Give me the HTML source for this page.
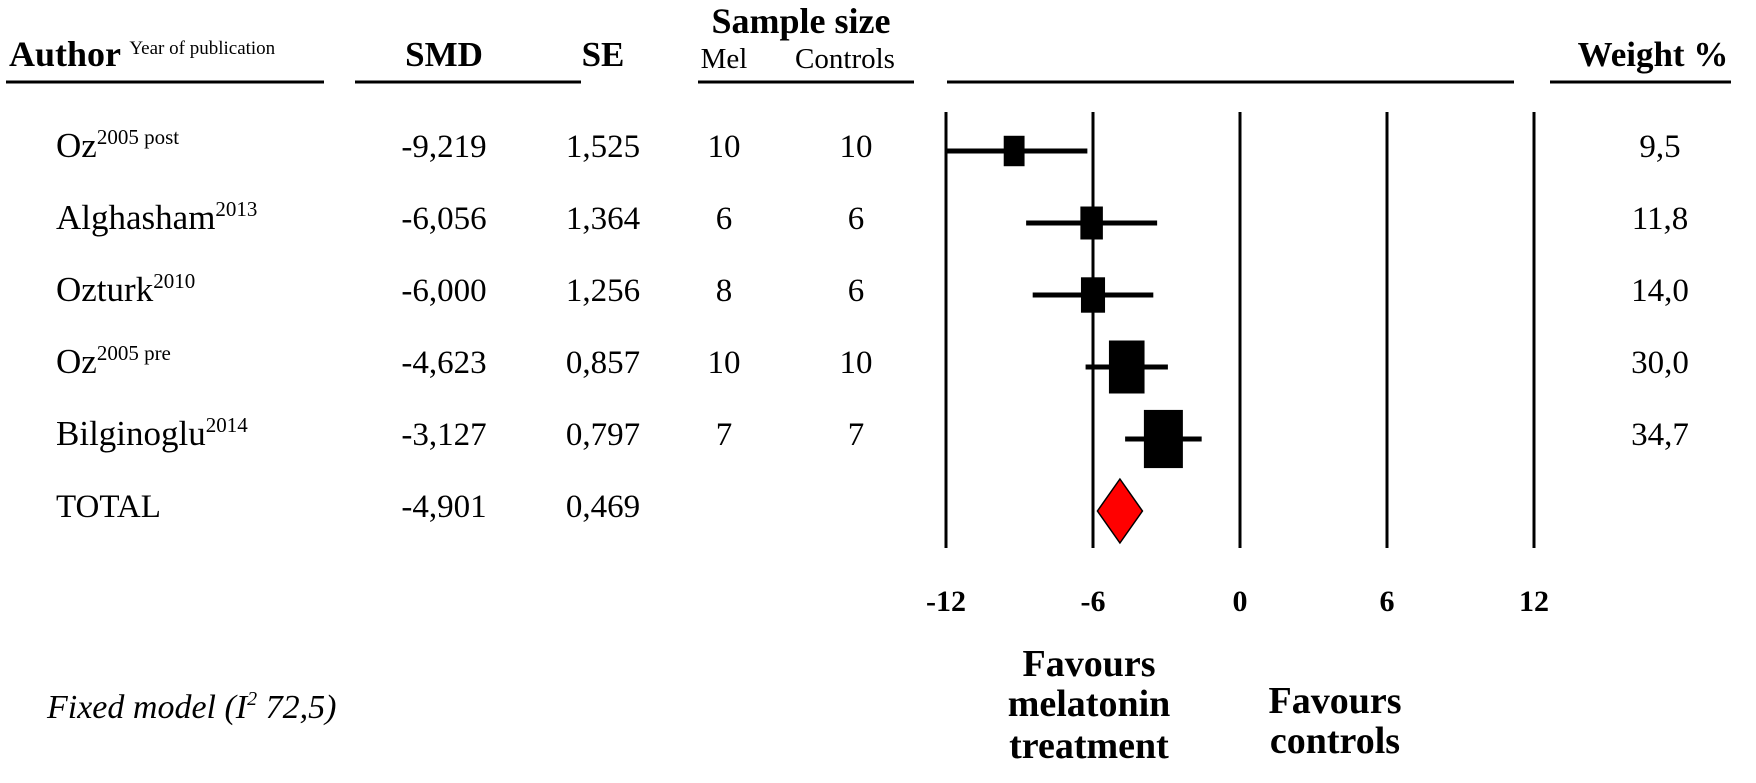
<!DOCTYPE html>
<html><head><meta charset="utf-8"><style>
html,body{margin:0;padding:0;background:#fff;}
svg{display:block;font-family:"Liberation Serif",serif;}
</style></head><body>
<svg id="fp" width="1756" height="783" viewBox="0 0 1756 783" xmlns="http://www.w3.org/2000/svg">
<g>
<text x="9" y="66" font-size="36" font-weight="bold">Author <tspan font-size="19" font-weight="normal" dy="-12">Year of publication</tspan></text>
<text x="444" y="66" font-size="35" font-weight="bold" text-anchor="middle">SMD</text>
<text x="603" y="66" font-size="35" font-weight="bold" text-anchor="middle">SE</text>
<text x="801" y="33" font-size="36" font-weight="bold" text-anchor="middle">Sample size</text>
<text x="724" y="68" font-size="29" text-anchor="middle">Mel</text>
<text x="845" y="68" font-size="29" text-anchor="middle">Controls</text>
<text x="1653" y="66" font-size="35" font-weight="bold" text-anchor="middle">Weight %</text>
<line x1="6" y1="82" x2="324" y2="82" stroke="#000" stroke-width="3"/>
<line x1="355" y1="82" x2="581" y2="82" stroke="#000" stroke-width="3"/>
<line x1="698" y1="82" x2="914" y2="82" stroke="#000" stroke-width="3"/>
<line x1="947" y1="82" x2="1514" y2="82" stroke="#000" stroke-width="3"/>
<line x1="1550" y1="82" x2="1731" y2="82" stroke="#000" stroke-width="3"/>
</g>
<g id="rows"></g>
<g id="plot"></g>
<text x="47" y="718" font-size="34" font-style="italic">Fixed model (I<tspan font-size="20" dy="-13">2</tspan><tspan dy="13"> 72,5)</tspan></text>
<g font-weight="bold" font-size="38" text-anchor="middle">
<text x="1089" y="676">Favours</text>
<text x="1089" y="716">melatonin</text>
<text x="1089" y="758">treatment</text>
<text x="1335" y="713">Favours</text>
<text x="1335" y="753">controls</text>
</g>
</svg>
<script>
const authors = ["Oz", "Alghasham", "Ozturk", "Oz", "Bilginoglu"];
const years = ["2005 post", "2013", "2010", "2005 pre", "2014"];
const smd = [-9.219, -6.056, -6.000, -4.623, -3.127];
const se = [1.525, 1.364, 1.256, 0.857, 0.797];
const mel = [10, 6, 8, 10, 7];
const controls = [10, 6, 6, 10, 7];
const weights = [9.5, 11.8, 14.0, 30.0, 34.7];
const totalSmd = -4.901;
const totalSe = 0.469;
const ticks = [-12, -6, 0, 6, 12];

const NS = "http://www.w3.org/2000/svg";
const xMin = -12, xMax = 12, pxL = 946, pxR = 1534;
function xs(v){ return pxL + (v - xMin) / (xMax - xMin) * (pxR - pxL); }
const rowY0 = 148, rowStep = 72;
function ys(i){ return rowY0 + i * rowStep; }
function fmt(v, d){ return v.toFixed(d).replace('.', ','); }
function mk(tag, attrs, parent){
  const e = document.createElementNS(NS, tag);
  for (const k in attrs) e.setAttribute(k, attrs[k]);
  parent.appendChild(e); return e;
}
const rows = document.getElementById('rows');
const plot = document.getElementById('plot');

ticks.forEach((t) => {
  const l = mk('line', {x1: xs(t), x2: xs(t), y1: 112, y2: 548, stroke: '#000', 'stroke-width': 3}, plot);
  
  
  const tx = mk('text', {x: xs(t), y: 611, 'font-size': 30, 'font-weight': 'bold', 'text-anchor': 'middle'}, plot);
  tx.textContent = t;
  
  
});

function cell(x, y, txt, anchor, name){
  const t = mk('text', {x: x, y: y, 'font-size': 33, 'text-anchor': anchor}, rows);
  t.textContent = txt;
  
  
  return t;
}
authors.forEach((a, i) => {
  const y = ys(i) + 9;
  const t = mk('text', {x: 56, y: y, 'font-size': 35}, rows);
  
  
  t.appendChild(document.createTextNode(a));
  const sp = mk('tspan', {'font-size': 21, dy: -13}, t);
  sp.textContent = years[i];
  cell(444, y, fmt(smd[i], 3), 'middle', 'smd-value');
  cell(603, y, fmt(se[i], 3), 'middle', 'se-value');
  cell(724, y, String(mel[i]), 'middle', 'mel-count');
  cell(856, y, String(controls[i]), 'middle', 'controls-count');
  cell(1660, y, fmt(weights[i], 1), 'middle', 'weight-value');

  const lo = Math.max(xMin, smd[i] - 1.96 * se[i]);
  const hi = Math.min(xMax, smd[i] + 1.96 * se[i]);
  const cy = ys(i) + 3;
  const ci = mk('line', {x1: xs(lo), x2: xs(hi), y1: cy, y2: cy, stroke: '#000', 'stroke-width': 5}, plot);
  
  
  const w = 14 + weights[i] * 0.72, h = 20 + weights[i] * 1.1;
  const sq = mk('rect', {x: xs(smd[i]) - w / 2, y: cy - h / 2, width: w, height: h, fill: '#000'}, plot);
  
  
});
const ty = ys(5) + 9;
const tl = cell(56, ty, 'TOTAL', 'start', 'total-label');
tl.setAttribute('font-size', 33);
cell(444, ty, fmt(totalSmd, 3), 'middle', 'total-smd');
cell(603, ty, fmt(totalSe, 3), 'middle', 'total-se');
const dcy = ys(5) + 3, dlo = xs(totalSmd - 1.96 * totalSe), dhi = xs(totalSmd + 1.96 * totalSe), dc = xs(totalSmd);
const dm = mk('polygon', {points: `${dlo},${dcy} ${dc},${dcy - 32} ${dhi},${dcy} ${dc},${dcy + 32}`, fill: '#ff0000', stroke: '#000', 'stroke-width': 1.5}, plot);


</script>
</body></html>
